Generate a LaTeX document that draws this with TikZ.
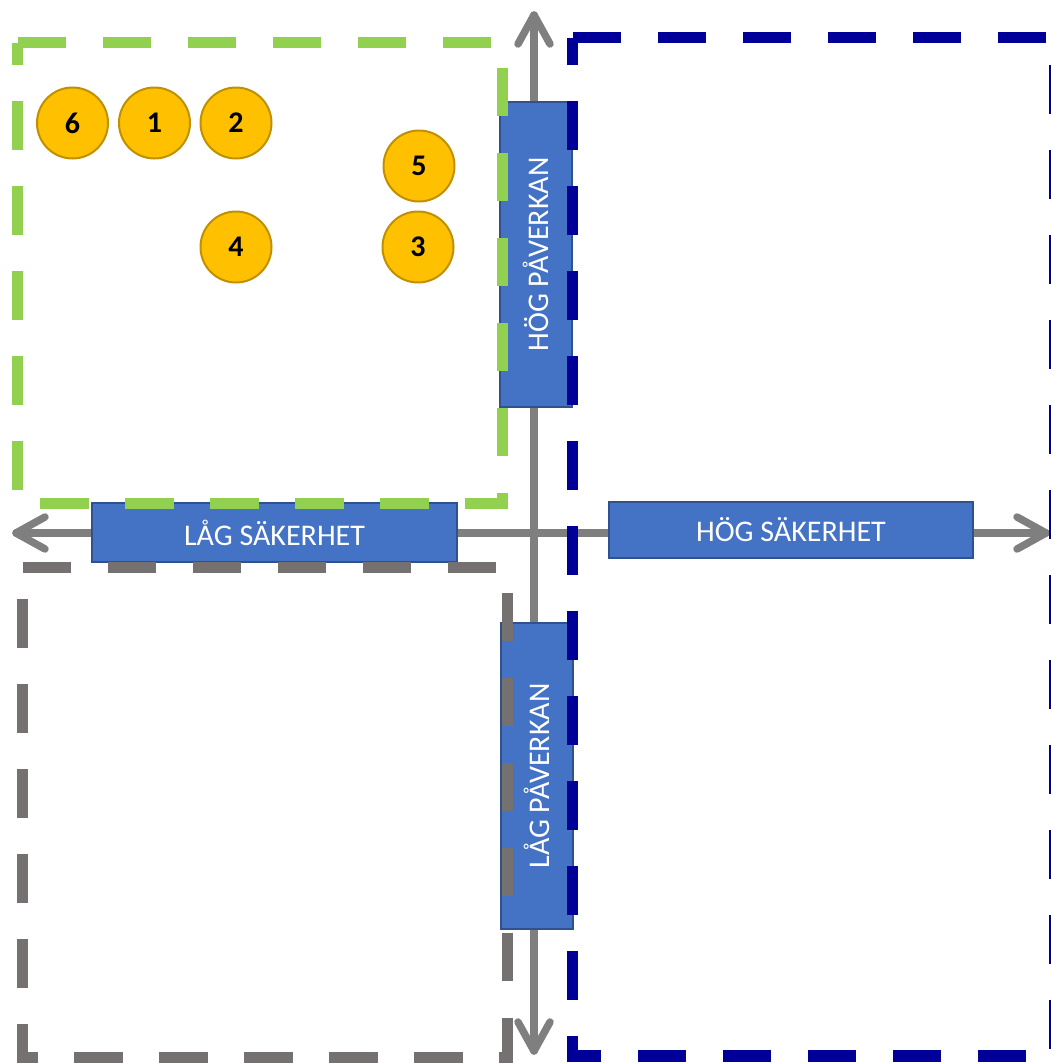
\documentclass[tikz,border=0pt]{standalone}
\usepackage{fontspec}
\setmainfont{Carlito}
\usetikzlibrary{calc}
\definecolor{grn}{HTML}{92D050}
\definecolor{dblue}{HTML}{000099}
\definecolor{dgray}{HTML}{767171}
\definecolor{axgray}{HTML}{7F7F7F}
\definecolor{boxfill}{HTML}{4472C4}
\definecolor{boxline}{HTML}{2F528F}
\definecolor{gold}{HTML}{FFC000}
\definecolor{golddark}{HTML}{BF9000}
\begin{document}
\begin{tikzpicture}[x=1pt,y=-1pt,
  axis/.style={draw=axgray,line width=7.5pt,line cap=round,line join=round},
  axlabel/.style={draw=boxline,fill=boxfill,line width=2pt,text=white,
    font=\fontsize{30}{36}\selectfont,inner sep=0pt,anchor=center},
  zone/.style={line width=11.5pt,dash pattern=on 48.5pt off 36.5pt},
  item/.style={circle,draw=golddark,fill=gold,line width=2pt,minimum size=71pt,
    inner sep=0pt,font=\fontsize{30}{36}\selectfont\bfseries}]
\useasboundingbox (0,0) rectangle (1051,1063);
\clip (0,0) rectangle (1051,1063);
% axes
\coordinate (o) at (534,533);
\coordinate (lt) at (16,533);
\coordinate (rt) at (1046,533);
\coordinate (tt) at (534,15);
\coordinate (bt) at (534,1051);
\draw[axis] (o) -- (lt);
\draw[axis] (o) -- (rt);
\draw[axis] (o) -- (tt);
\draw[axis] (o) -- (bt);
\draw[axis] ($(lt)+(29,-16)$) -- (lt) -- ($(lt)+(29,16)$);
\draw[axis] ($(rt)+(-29,-16)$) -- (rt) -- ($(rt)+(-29,16)$);
\draw[axis] ($(tt)+(-16,29)$) -- (tt) -- ($(tt)+(16,29)$);
\draw[axis] ($(bt)+(-16,-29)$) -- (bt) -- ($(bt)+(16,-29)$);
% axis labels
\node[axlabel,minimum width=305pt,minimum height=72pt,rotate=90] (hp) at (536,254.5) {HÖG PÅVERKAN};
\node[axlabel,minimum width=306pt,minimum height=72pt,rotate=90] (lp) at (536.5,776) {LÅG PÅVERKAN};
\node[axlabel,minimum width=365pt,minimum height=59pt] (ls) at (274.5,532.5) {LÅG SÄKERHET};
\node[axlabel,minimum width=364pt,minimum height=56pt] (hs) at (791,530) {HÖG SÄKERHET};
% zones
\draw[zone,draw=grn] (17.5,42.5) -- (502.5,42.5) -- (502.5,503.5) -- (17.5,503.5) -- cycle;
\draw[zone,draw=dblue] (572.5,37.5) -- (1055,37.5) -- (1055,1056) -- (572.5,1056) -- cycle;
\draw[zone,draw=dgray] (22.5,567.5) -- (507.5,567.5) -- (507.5,1057.5) -- (22.5,1057.5) -- cycle;
% items
\node[item] (n6) at (72.5,123) {6};
\node[item] (n1) at (154.5,123) {1};
\node[item] (n2) at (236,123) {2};
\node[item] (n4) at (236,247) {4};
\node[item] (n5) at (419,166) {5};
\node[item] (n3) at (418,247) {3};
\end{tikzpicture}
\end{document}
